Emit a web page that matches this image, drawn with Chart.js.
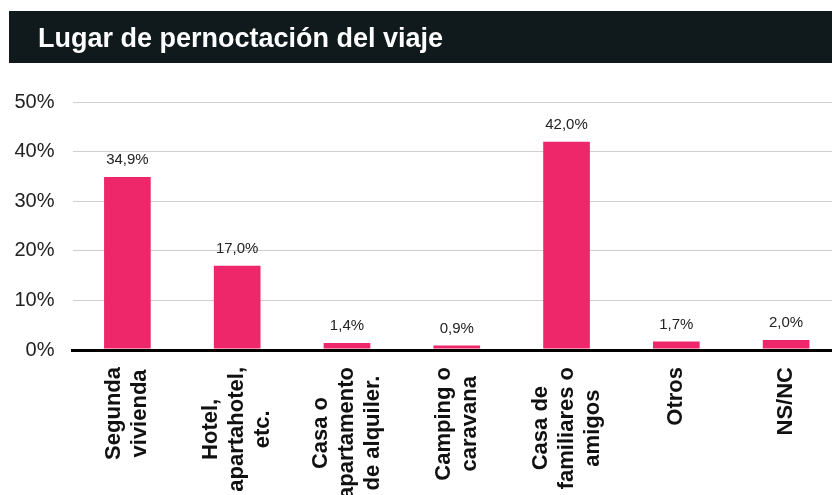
<!DOCTYPE html>
<html>
<head>
<meta charset="utf-8">
<script src="https://cdn.jsdelivr.net/npm/chart.js@4"></script>
<style>
html,body{margin:0;padding:0;overflow:hidden;background:#fff;width:832px;height:495px;}
#wrap{position:absolute;left:0;top:0;width:841px;height:495px;}
#hdr{position:absolute;left:9px;top:11px;width:823px;height:52px;background:#101a1c;}
#hdr h1{margin:0;position:absolute;left:29px;top:1px;font:bold 27px "Liberation Sans",Arial,Helvetica,sans-serif;line-height:52px;color:#fff;white-space:nowrap;}
</style>
</head>
<body>
<div id="wrap"><canvas id="c" width="841" height="495"></canvas></div>
<div id="hdr"><h1 id="title"></h1></div>
<script>
const title = 'Lugar de pernoctación del viaje';
const categories = [
  ['Segunda', 'vivienda'],
  ['Hotel,', 'apartahotel,', 'etc.'],
  ['Casa o', 'apartamento', 'de alquiler.'],
  ['Camping o', 'caravana'],
  ['Casa de', 'familiares o', 'amigos'],
  ['Otros'],
  ['NS/NC']
];
const values = [34.9, 17.0, 1.4, 0.9, 42.0, 1.7, 2.0];
const yTicks = [0, 10, 20, 30, 40, 50];

document.getElementById('title').textContent = title;

const FONT = '"Liberation Sans", Arial, Helvetica, sans-serif';

const valueLabels = {
  id: 'valueLabels',
  afterDatasetsDraw(chart) {
    const ctx = chart.ctx;
    const meta = chart.getDatasetMeta(0);
    ctx.save();
    ctx.font = '15px ' + FONT;
    ctx.fillStyle = '#222';
    ctx.textAlign = 'center';
    ctx.textBaseline = 'alphabetic';
    meta.data.forEach((bar, i) => {
      ctx.fillText(values[i].toFixed(1).replace('.', ',') + '%', bar.x, bar.y - 13);
    });
    ctx.restore();
  }
};

const xLabels = {
  id: 'xLabels',
  afterDraw(chart) {
    const ctx = chart.ctx;
    const xs = chart.scales.x;
    const top = chart.chartArea.bottom + 17;
    const lh = 26;
    ctx.save();
    ctx.font = 'bold 22px ' + FONT;
    ctx.fillStyle = '#111';
    ctx.textAlign = 'center';
    ctx.textBaseline = 'middle';
    categories.forEach((lines, i) => {
      const w = Math.max(...lines.map(l => ctx.measureText(l).width));
      const x = xs.getPixelForTick(i);
      ctx.save();
      ctx.translate(x, top + w / 2);
      ctx.rotate(-Math.PI / 2);
      lines.forEach((l, j) => ctx.fillText(l, 0, (j - (lines.length - 1) / 2) * lh));
      ctx.restore();
    });
    ctx.restore();
  }
};

new Chart(document.getElementById('c'), {
  type: 'bar',
  data: {
    labels: categories.map(l => l.join(' ')),
    datasets: [{
      data: values,
      backgroundColor: '#ED2769',
      barPercentage: 0.425,
      categoryPercentage: 1
    }]
  },
  options: {
    responsive: false,
    animation: false,
    layout: { padding: { top: 102, right: 0, left: 0, bottom: 0 } },
    plugins: { legend: { display: false }, tooltip: { enabled: false } },
    scales: {
      x: {
        z: 1,
        grid: { display: false },
        border: { display: true, color: '#000', width: 3 },
        ticks: { display: false },
        afterFit(s) { s.height = 145; }
      },
      y: {
        min: 0,
        max: 50,
        afterBuildTicks(s) { s.ticks = yTicks.map(v => ({ value: v })); },
        afterFit(s) { s.width = 72.5; },
        border: { display: false },
        grid: {
          drawTicks: false,
          color: c => (c.tick && c.tick.value === 0) ? '#000' : '#cfcfcf',
          lineWidth: c => (c.tick && c.tick.value === 0) ? 3 : 1
        },
        ticks: {
          padding: 18,
          color: '#222',
          font: { family: FONT, size: 20 },
          callback: v => v + '%'
        }
      }
    }
  },
  plugins: [valueLabels, xLabels]
});
</script>
</body>
</html>
